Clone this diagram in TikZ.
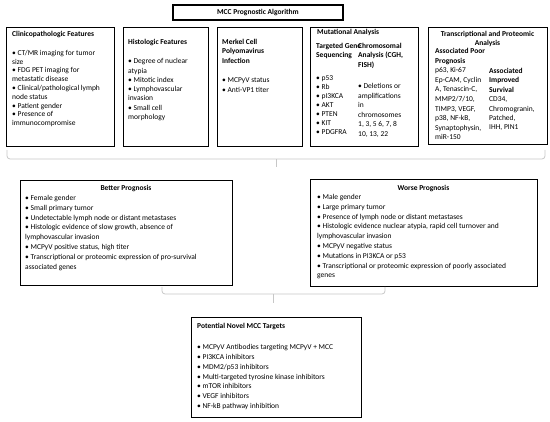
\documentclass[tikz,border=0pt]{standalone}
\usepackage{fontspec}
\setmainfont{Carlito}
\usetikzlibrary{positioning}

\tikzset{
  frame/.style={draw, line width=1.3pt, anchor=north west, inner sep=0pt},
  txt/.style={anchor=north west, inner sep=0pt, align=left, font=\fontsize{7.5}{#1}\selectfont},
  txt/.default=8.8,
  ctxt/.style={anchor=north, inner sep=0pt, align=center, font=\fontsize{7.5}{9}\selectfont\bfseries},
  brace/.style={draw=black!22, line width=0.8pt, rounded corners=3pt}
}

\begin{document}
\begin{tikzpicture}[x=1pt,y=-1pt]
\useasboundingbox (0,0) rectangle (550,422);

% title
\node[frame, anchor=center, minimum width=170, minimum height=15] (algo) at (258,12.5) {};
\node[ctxt, anchor=center] (algotxt) at (algo.center) {MCC Prognostic Algorithm};

% top row
\node[frame, minimum width=108, minimum height=119] (clin) at (6,27) {};
\node[txt] (clintxt) at (12,31) {\textbf{Clinicopathologic Features}\\[10pt]
• CT/MR imaging for tumor\\ size\\ • FDG PET imaging for\\ metastatic disease\\
• Clinical/pathological lymph\\ node status\\ • Patient gender\\ • Presence of\\ immunocompromise};

\node[frame, minimum width=85, minimum height=119] (histo) at (123,27) {};
\node[txt=9.3] (histotxt) at (128,39) {\textbf{Histologic Features}\\[10pt]
• Degree of nuclear\\ atypia\\ • Mitotic index\\ • Lymphovascular\\ invasion\\ • Small cell\\ morphology};

\node[frame, minimum width=85, minimum height=119] (mcpyv) at (217,27) {};
\node[txt=9.5] (mcpyvtxt) at (222,39) {\textbf{Merkel Cell}\\ \textbf{Polyomavirus}\\ \textbf{Infection}\\[10pt]
• MCPyV status\\ • Anti-VP1 titer};

\node[frame, minimum width=108, minimum height=119] (mut) at (310,27) {};
\node[txt] (muttxt) at (317,29.5) {\textbf{Mutational Analysis}};
\node[txt=9] (seqtxt) at (316,43) {\textbf{Targeted Gene}\\ \textbf{Sequencing}\\[14pt]
• p53\\ • Rb\\ • pI3KCA\\ • AKT\\ • PTEN\\ • KIT\\ • PDGFRA};
\node[txt=9.5] (chromtxt) at (358,43) {\textbf{Chromosomal}\\ \textbf{Analysis (CGH,}\\ \textbf{FISH)}\\[12pt]
• Deletions or\\ amplifications\\ in\\ chromosomes\\ 1, 3, 5 6, 7, 8\\ 10, 13, 22};

\node[frame, minimum width=119, minimum height=117] (trans) at (428,27) {};
\node[ctxt] (transtxt) at (487.5,31) {Transcriptional and Proteomic\\ Analysis};
\node[txt=9.6] (poortxt) at (435,48) {\textbf{Associated Poor}\\ \textbf{Prognosis}\\
p63, Ki-67\\ Ep-CAM, Cyclin\\ A, Tenascin-C,\\ MMP2/7/10,\\ TIMP3, VEGF,\\ p38, NF-kB,\\ Synaptophysin,\\ miR-150};
\node[txt=9.4] (survtxt) at (489,68) {\textbf{Associated}\\ \textbf{Improved}\\ \textbf{Survival}\\
CD34,\\ Chromogranin,\\ Patched,\\ IHH, PIN1};

% upper brace
\coordinate (ubl) at (7,150);
\coordinate (ubr) at (545,150);
\coordinate (ubm) at (276,159);
\draw[brace] (ubl) |- (ubm) -| (ubr);
\draw[brace] (ubm) -- ++(0,8);

% prognosis boxes
\node[frame, minimum width=212, minimum height=105] (better) at (20,180) {};
\node[ctxt] (bettertit) at (126,185.5) {Better Prognosis};
\node[txt=9.8] (bettertxt) at (25,195) {• Female gender\\ • Small primary tumor\\
• Undetectable lymph node or distant metastases\\
• Histologic evidence of slow growth, absence of\\ lymphovascular invasion\\
• MCPyV positive status, high titer\\
• Transcriptional or proteomic expression of pro-survival\\ associated genes};

\node[frame, minimum width=227, minimum height=107] (worse) at (310,179) {};
\node[ctxt] (worsetit) at (423.5,185.5) {Worse Prognosis};
\node[txt=9.8] (worsetxt) at (317,194) {• Male gender\\ • Large primary tumor\\
• Presence of lymph node or distant metastases\\
• Histologic evidence nuclear atypia, rapid cell turnover and\\ lymphovascular invasion\\
• MCPyV negative status\\ • Mutations in PI3KCA or p53\\
• Transcriptional or proteomic expression of poorly associated\\ genes};

% lower brace
\coordinate (lbl) at (162,287);
\coordinate (lbr) at (385,287);
\coordinate (lbm) at (273,294);
\draw[brace] (lbl) |- (lbm) -| (lbr);
\draw[brace] (lbm) -- ++(0,9);

% targets
\node[frame, minimum width=170, minimum height=100] (targ) at (191,317) {};
\node[txt=9.9] (targtxt) at (197,323) {\textbf{Potential Novel MCC Targets}\\[11pt]
• MCPyV Antibodies targeting MCPyV + MCC\\ • PI3KCA inhibitors\\ • MDM2/p53 inhibitors\\
• Multi-targeted tyrosine kinase inhibitors\\ • mTOR inhibitors\\ • VEGF inhibitors\\
• NF-kB pathway inhibition};
\end{tikzpicture}
\end{document}
